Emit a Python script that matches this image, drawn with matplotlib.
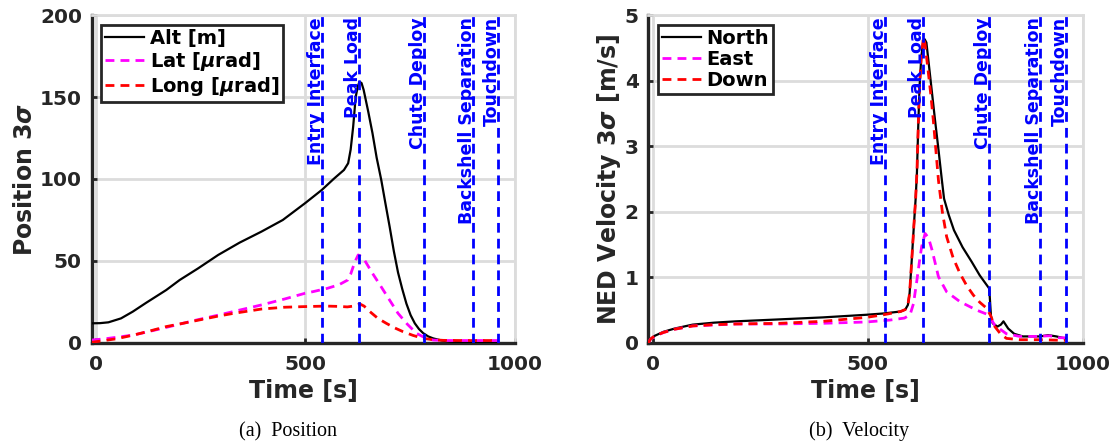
import matplotlib
matplotlib.use("Agg")
import matplotlib.pyplot as plt
from matplotlib import transforms

# Event markers (time in s)
event_names = ["Entry Interface", "Peak Load", "Chute Deploy", "Backshell Separation", "Touchdown"]
event_times = [540, 628, 782, 899, 960]

# Position 3-sigma
alt_t = [-10, 10, 30, 60, 88, 120, 168, 200, 244, 292, 343, 395, 446, 499, 539, 569, 592, 602,
         608, 614, 620, 625, 629, 634, 639, 650, 660, 670, 681, 691, 701, 711, 721, 731, 741,
         751, 761, 771, 781, 793, 805, 825, 845, 870, 900, 930, 960]
alt = [12.0, 12.1, 12.6, 15.0, 19.1, 24.5, 32.3, 38.4, 45.5, 53.7, 61.2, 67.9, 75.0, 85.2, 93.3,
       100.4, 105.5, 109.6, 118.0, 132.0, 150.0, 156.5, 159.3, 158.5, 154.3, 141.0, 128.0, 113.0,
       99.4, 85.0, 70.9, 56.0, 43.0, 33.0, 24.0, 17.0, 12.0, 8.5, 6.0, 4.0, 2.8, 1.5, 0.8, 0.5,
       0.4, 0.3, 0.3]

lat_t = [-10, 20, 50, 91, 140, 192, 240, 294, 327, 395, 450, 499, 518, 552, 580, 601, 608, 614,
         620, 626, 633, 641, 660, 678, 700, 721, 743, 765, 785, 805, 830, 870, 920, 960]
lat = [1.8, 2.5, 3.5, 4.9, 7.8, 11.0, 14.0, 17.1, 19.1, 23.2, 26.8, 30.3, 31.3, 33.3, 35.5, 38.4,
       42.0, 46.5, 50.5, 53.7, 52.8, 50.6, 42.5, 35.4, 26.5, 18.1, 11.5, 5.9, 3.2, 1.8, 1.5, 1.5,
       1.5, 1.5]

long_t = [-10, 20, 50, 91, 130, 168, 200, 250, 294, 327, 395, 450, 499, 550, 580, 600, 615, 630,
          640, 654, 673, 693, 713, 733, 757, 781, 805, 829, 870, 920, 960]
long_ = [0.4, 1.5, 2.6, 4.9, 7.4, 10.0, 11.6, 14.2, 16.5, 18.0, 20.7, 21.8, 22.2, 22.5, 22.3,
         22.0, 22.5, 23.8, 22.5, 19.1, 15.0, 12.0, 9.2, 6.9, 4.6, 2.8, 2.0, 1.6, 1.5, 1.5, 1.5]

# NED velocity 3-sigma
north_t = [-10, -5, 5, 25, 51, 93, 143, 193, 295, 395, 496, 536, 576, 587, 593, 597, 602, 607,
           611, 614, 617, 620, 624, 628, 632, 636, 645, 656, 664, 672, 677, 688, 700, 720, 741,
           760, 782, 786, 790, 801, 809, 815, 826, 840, 860, 901, 919, 938, 958]
north = [0.0, 0.06, 0.11, 0.17, 0.22, 0.28, 0.31, 0.33, 0.36, 0.39, 0.43, 0.45, 0.48, 0.51, 0.58,
         0.76, 1.27, 1.8, 2.2, 2.6, 3.3, 3.9, 4.35, 4.57, 4.63, 4.58, 4.05, 3.40, 2.95, 2.48, 2.2,
         1.95, 1.72, 1.46, 1.24, 1.03, 0.83, 0.41, 0.30, 0.25, 0.28, 0.33, 0.22, 0.14, 0.10, 0.10,
         0.12, 0.10, 0.07]

east_t = [-10, -5, 5, 25, 51, 93, 193, 295, 395, 496, 552, 585, 598, 606, 614, 620, 625, 633, 641,
          649, 664, 683, 714, 753, 780, 795, 822, 853, 891, 922, 945, 958]
east = [0.0, 0.06, 0.10, 0.16, 0.21, 0.26, 0.29, 0.29, 0.30, 0.32, 0.35, 0.38, 0.43, 0.60, 0.96,
        1.25, 1.47, 1.67, 1.60, 1.42, 1.01, 0.78, 0.63, 0.50, 0.43, 0.27, 0.14, 0.10, 0.10, 0.11,
        0.08, 0.08]

down_t = [-10, -5, 5, 25, 51, 93, 143, 193, 295, 395, 496, 536, 576, 587, 593, 597, 602, 607, 611,
          614, 617, 620, 624, 629, 633, 640, 646, 652, 664, 673, 683, 698, 714, 730, 745, 760, 776,
          785, 795, 808, 822, 853, 900, 958]
down = [0.0, 0.06, 0.11, 0.16, 0.21, 0.26, 0.28, 0.29, 0.30, 0.33, 0.39, 0.43, 0.48, 0.51, 0.58,
        0.76, 1.27, 1.8, 2.2, 2.6, 3.3, 3.9, 4.35, 4.66, 4.55, 4.15, 3.8, 3.4, 2.48, 2.0, 1.62, 1.3,
        1.06, 0.87, 0.73, 0.62, 0.53, 0.42, 0.25, 0.14, 0.07, 0.05, 0.05, 0.04]

DARK = "#262626"
GRID = "#dcdcdc"
DASH = (0, (3.2, 2.2))


def style_axes(ax, ymax, yticks):
    ax.set_xlim(-10, 1000)
    ax.set_ylim(0, ymax)
    ax.set_xticks([0, 500, 1000])
    ax.set_yticks(yticks)
    ax.grid(True, color=GRID, linewidth=2.0)
    ax.set_axisbelow(True)
    for side in ["top", "right"]:
        ax.spines[side].set_color(GRID)
        ax.spines[side].set_linewidth(2.0)
    for side in ["left", "bottom"]:
        ax.spines[side].set_color(DARK)
        ax.spines[side].set_linewidth(2.4)
    ax.tick_params(direction="in", length=3.5, width=2, colors=DARK, labelsize=14.5,
                   top=False, right=False)
    ax.tick_params(axis="x", pad=9)
    ax.tick_params(axis="y", pad=7)


def add_events(fig, ax):
    # blue dashed event markers with rotated labels hanging from the top
    trans = transforms.blended_transform_factory(ax.transData, ax.transAxes)
    trans = transforms.offset_copy(trans, fig=fig, x=2.2, y=-1.5, units="points")
    for name, t in zip(event_names, event_times):
        ax.axvline(t, color="blue", linewidth=2, linestyle=(0, (3.5, 2.2)), zorder=4)
        ax.text(t, 1.0, name, rotation=90, ha="right", va="top", color="blue",
                fontsize=12.5, fontweight="bold", transform=trans, zorder=5)


def add_legend(ax, anchor_x):
    leg = ax.legend(loc="upper left", bbox_to_anchor=(anchor_x, 0.9695), borderaxespad=0,
                    fontsize=14, fancybox=False, framealpha=1, edgecolor=DARK,
                    handlelength=2.0, handletextpad=0.3, labelspacing=0.1, borderpad=0.2)
    leg.get_frame().set_linewidth(2)
    leg.set_zorder(10)


def main():
    plt.rcParams["font.family"] = "DejaVu Sans"
    plt.rcParams["font.weight"] = "bold"
    plt.rcParams["mathtext.fontset"] = "dejavusans"

    fig = plt.figure(figsize=(11.19, 4.48), dpi=100)

    # (a) Position
    ax1 = fig.add_axes([0.0819, 0.2344, 0.3783, 0.7321])
    ax1.plot(alt_t, alt, color="black", linewidth=1.6, label="Alt [m]", zorder=3)
    ax1.plot(lat_t, lat, color="#ff00ff", linewidth=2, linestyle=DASH,
             label=r"Lat [$\mu$rad]", zorder=3)
    ax1.plot(long_t, long_, color="red", linewidth=2, linestyle=DASH,
             label=r"Long [$\mu$rad]", zorder=3)
    style_axes(ax1, 200, [0, 50, 100, 150, 200])
    add_events(fig, ax1)
    add_legend(ax1, 0.022)
    ax1.set_xlabel("Time [s]", fontsize=17, fontweight="bold", color=DARK)
    ax1.set_ylabel(r"Position 3$\sigma$", fontsize=17, fontweight="bold", color=DARK)
    ax1.xaxis.set_label_coords(0.5, -0.11)
    ax1.yaxis.set_label_coords(-0.130, 0.5)

    # (b) Velocity
    ax2 = fig.add_axes([0.5794, 0.2344, 0.3885, 0.7321])
    ax2.plot(north_t, north, color="black", linewidth=1.6, label="North", zorder=3)
    ax2.plot(east_t, east, color="#ff00ff", linewidth=2, linestyle=DASH, label="East", zorder=3)
    ax2.plot(down_t, down, color="red", linewidth=2, linestyle=DASH, label="Down", zorder=3)
    style_axes(ax2, 5, [0, 1, 2, 3, 4, 5])
    add_events(fig, ax2)
    add_legend(ax2, 0.0216)
    ax2.set_xlabel("Time [s]", fontsize=17, fontweight="bold", color=DARK)
    ax2.set_ylabel(r"NED Velocity 3$\sigma$ [m/s]", fontsize=17, fontweight="bold", color=DARK)
    ax2.xaxis.set_label_coords(0.5, -0.11)
    ax2.yaxis.set_label_coords(-0.059, 0.5)

    # subfigure captions
    fig.text(288 / 1119, 12 / 448, "(a)  Position", family="Liberation Serif",
             fontweight="normal", fontsize=14.5, ha="center", va="baseline")
    fig.text(859 / 1119, 12 / 448, "(b)  Velocity", family="Liberation Serif",
             fontweight="normal", fontsize=14.5, ha="center", va="baseline")

    fig.savefig("out.png", dpi=100)


if __name__ == "__main__":
    main()
